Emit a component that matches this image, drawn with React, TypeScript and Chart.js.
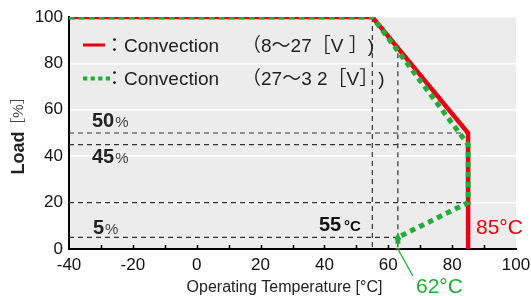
import React, { useEffect, useRef } from "react";
import { Chart, registerables } from "chart.js";

Chart.register(...registerables);

// ---- data ----
const redX = [-40, 55, 85, 85];
const redY = [100, 100, 50, 0];
const greenX = [-40, 55, 85, 85, 63, 63];
const greenY = [100, 100, 45, 20, 5, 0];
const refHLevels = [50, 45, 20, 5];
const refHEnds = [85, 85, 85, 63];
const refVX = [55, 63];
const refVTop = [100, 84.4];
const xTicks = [-40, -20, 0, 20, 40, 60, 80, 100];
const yTicks = [0, 20, 40, 60, 80, 100];

const RED = "#e60012";
const GREEN = "#22ac38";
const FONT = "'Liberation Sans', Arial, 'Noto Sans CJK JP', sans-serif";

const pts = (xs: number[], ys: number[]) => xs.map((x, i) => ({ x, y: ys[i] }));

const bgPlugin = {
  id: "bg",
  beforeDraw(chart: any) {
    const { ctx, chartArea: a } = chart;
    ctx.save();
    ctx.fillStyle = "#ececec";
    ctx.fillRect(a.left, a.top, a.right - a.left, a.bottom - a.top);
    ctx.restore();
  },
};

const decoPlugin = {
  id: "deco",
  afterDraw(chart: any) {
    const { ctx, chartArea: a } = chart;
    const xs = chart.scales.x;
    const ys = chart.scales.y;
    ctx.save();
    // inward ticks on x axis
    ctx.strokeStyle = "#000";
    ctx.lineWidth = 1.5;
    for (let v = -30; v <= 90; v += 10) {
      const px = Math.round(xs.getPixelForValue(v)) + 0.5;
      ctx.beginPath();
      ctx.moveTo(px, a.bottom);
      ctx.lineTo(px, a.bottom - 4);
      ctx.stroke();
    }
    // green arrow at 62°C point
    const gx = xs.getPixelForValue(greenX[4]);
    const gy = ys.getPixelForValue(greenY[4]);
    ctx.fillStyle = GREEN;
    ctx.beginPath();
    ctx.moveTo(gx, gy - 5);
    ctx.lineTo(gx - 3.5, gy + 2);
    ctx.lineTo(gx + 3.5, gy + 2);
    ctx.closePath();
    ctx.fill();
    // annotation line
    ctx.strokeStyle = GREEN;
    ctx.lineWidth = 1.3;
    ctx.beginPath();
    ctx.moveTo(gx, a.bottom);
    ctx.lineTo(gx + 15, a.bottom + 27);
    ctx.stroke();

    // legend
    ctx.lineWidth = 3;
    ctx.strokeStyle = RED;
    ctx.beginPath();
    ctx.moveTo(83, 45);
    ctx.lineTo(105, 45);
    ctx.stroke();
    ctx.strokeStyle = GREEN;
    ctx.setLineDash([4.3, 3.3]);
    ctx.lineWidth = 4;
    ctx.beginPath();
    ctx.moveTo(83, 78.5);
    ctx.lineTo(110, 78.5);
    ctx.stroke();
    ctx.setLineDash([]);

    ctx.fillStyle = "#222";
    ctx.textBaseline = "alphabetic";
    ctx.textAlign = "left";
    ctx.font = `19px ${FONT}`;
    ctx.fillText("：Convection", 105, 52);
    ctx.fillText("（8～27［V ］)", 242, 52);
    ctx.fillText("：Convection", 105, 85);
    ctx.fillText("（27～3 2［V］)", 242, 85);

    // percent labels
    const pct = (num: string, x: number, y: number) => {
      ctx.fillStyle = "#222";
      ctx.font = `bold 20px ${FONT}`;
      ctx.fillText(num, x, y);
      const w = ctx.measureText(num).width;
      ctx.font = `15px ${FONT}`;
      ctx.fillStyle = "#444";
      ctx.fillText("%", x + w + 1, y);
    };
    pct("50", 92, 127);
    pct("45", 92, 163);
    pct("5", 93, 234);

    // 55°C
    ctx.fillStyle = "#111";
    ctx.font = `bold 20px ${FONT}`;
    ctx.fillText("55", 319, 231);
    ctx.font = `bold 15px ${FONT}`;
    ctx.fillText("°C", 344, 231);

    // 85°C
    ctx.fillStyle = RED;
    ctx.font = `21px ${FONT}`;
    ctx.fillText("85°C", 476, 234);

    // 62°C
    ctx.fillStyle = GREEN;
    ctx.fillText("62°C", 416, 293);

    // x title
    ctx.fillStyle = "#222";
    ctx.font = `16px ${FONT}`;
    ctx.textAlign = "center";
    ctx.fillText("Operating Temperature [°C]", 284.5, 292);

    // y title
    ctx.save();
    ctx.translate(24, 153);
    ctx.rotate(-Math.PI / 2);
    ctx.textAlign = "center";
    ctx.font = `bold 18px ${FONT}`;
    ctx.fillStyle = "#222";
    ctx.fillText("Load", 0, 0);
    ctx.restore();
    ctx.save();
    ctx.translate(23, 111);
    ctx.rotate(-Math.PI / 2);
    ctx.textAlign = "center";
    ctx.font = `15px ${FONT}`;
    ctx.fillStyle = "#444";
    ctx.fillText("［%］", 0, 0);
    ctx.restore();

    ctx.restore();
  },
};

export default function App() {
  const ref = useRef<HTMLCanvasElement | null>(null);
  useEffect(() => {
    document.body.style.margin = "0";
    const canvas = ref.current!;
    const refSets: any[] = [];
    refHLevels.forEach((lv, i) => {
      refSets.push({
        data: [
          { x: -40, y: lv },
          { x: refHEnds[i], y: lv },
        ],
        borderColor: "#333",
        borderWidth: 1.2,
        borderDash: [5, 4],
        pointRadius: 0,
        order: 3,
      });
    });
    refVX.forEach((vx, i) => {
      refSets.push({
        data: [
          { x: vx, y: refVTop[i] },
          { x: vx, y: 0 },
        ],
        borderColor: "#333",
        borderWidth: 1.2,
        borderDash: [5, 4],
        pointRadius: 0,
        order: 3,
      });
    });
    const chart = new Chart(canvas, {
      type: "line",
      data: {
        datasets: [
          {
            data: pts(greenX, greenY),
            borderColor: GREEN,
            borderWidth: 5,
            borderDash: [5.5, 4.5],
            borderCapStyle: "butt",
            pointRadius: 0,
            tension: 0,
            order: 1,
          },
          {
            data: pts(redX, redY),
            borderColor: RED,
            borderWidth: 4.5,
            pointRadius: 0,
            tension: 0,
            order: 2,
          },
          ...refSets,
        ],
      },
      options: {
        animation: false,
        responsive: false,
        devicePixelRatio: 1,
        layout: { padding: { top: 17, right: 15, left: 0, bottom: 0 } },
        plugins: { legend: { display: false }, tooltip: { enabled: false } },
        scales: {
          x: {
            type: "linear",
            min: -40,
            max: 100,
            afterBuildTicks: (s: any) => {
              s.ticks = xTicks.map((v) => ({ value: v }));
            },
            afterFit: (s: any) => {
              s.height = 47;
              s.paddingRight = 0;
              s.paddingLeft = 0;
            },
            ticks: {
              font: { size: 17, family: FONT },
              color: "#111",
              padding: 6,
              maxRotation: 0,
            },
            grid: { display: false, drawTicks: false },
            border: { display: true, color: "#000", width: 2 },
          },
          y: {
            type: "linear",
            min: 0,
            max: 100,
            afterBuildTicks: (s: any) => {
              s.ticks = yTicks.map((v) => ({ value: v }));
            },
            afterFit: (s: any) => {
              s.width = 69;
              s.paddingTop = 0;
              s.paddingBottom = 0;
            },
            ticks: {
              font: { size: 17, family: FONT },
              color: "#111",
              padding: 6,
            },
            grid: { color: "#ffffff", lineWidth: 1.5, drawTicks: false },
            border: { display: true, color: "#000", width: 2 },
          },
        },
      },
      plugins: [bgPlugin, decoPlugin],
    } as any);
    return () => chart.destroy();
  }, []);
  return (
    <div style={{ width: 531, height: 296 }}>
      <canvas ref={ref} width={531} height={296} />
    </div>
  );
}
